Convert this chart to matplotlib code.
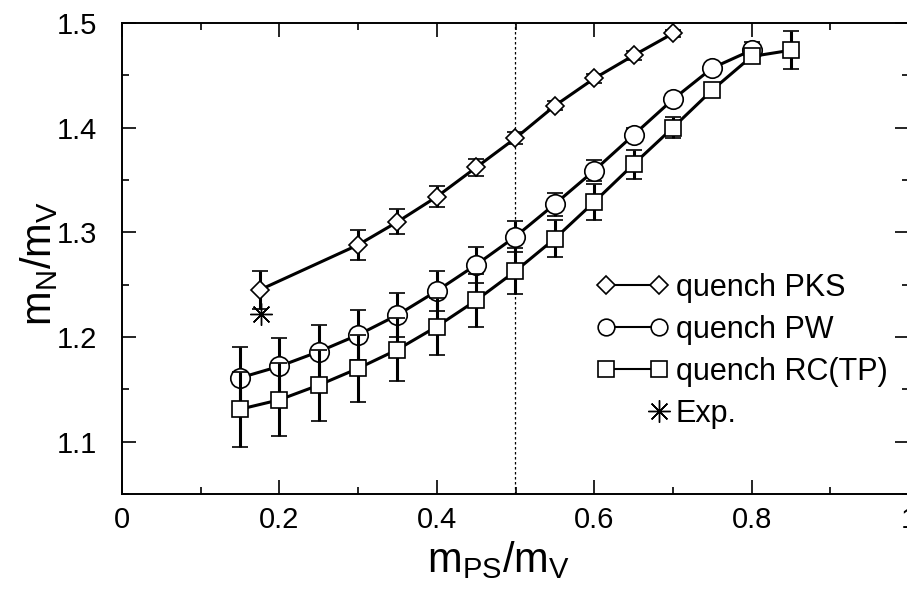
#!/usr/bin/env python3

import numpy as np
import matplotlib
matplotlib.use('Agg')
import matplotlib.pyplot as plt
from matplotlib.lines import Line2D
from matplotlib.legend_handler import HandlerLine2D
from matplotlib.ticker import MultipleLocator

plt.rcParams['font.family'] = ['Liberation Sans', 'DejaVu Sans']
plt.rcParams['mathtext.default'] = 'regular'

# --- data ---
x_pks = [0.175, 0.30, 0.35, 0.40, 0.45, 0.50, 0.55, 0.60, 0.65, 0.70]
y_pks = [1.245, 1.288, 1.310, 1.334, 1.362, 1.390, 1.421, 1.447, 1.469, 1.490]
e_pks = [0.018, 0.014, 0.012, 0.010, 0.008, 0.006, 0.004, 0.004, 0.004, 0.003]

x_pw = [0.15, 0.20, 0.25, 0.30, 0.35, 0.40, 0.45, 0.50, 0.55, 0.60, 0.65, 0.70, 0.75, 0.80]
y_pw = [1.161, 1.172, 1.186, 1.202, 1.221, 1.244, 1.269, 1.296, 1.327, 1.359, 1.393, 1.427, 1.457, 1.474]
e_pw = [0.029, 0.027, 0.025, 0.024, 0.021, 0.019, 0.017, 0.015, 0.011, 0.010, 0.007, 0.005, 0.004, 0.008]

x_rc = [0.15, 0.20, 0.25, 0.30, 0.35, 0.40, 0.45, 0.50, 0.55, 0.60, 0.65, 0.70, 0.75, 0.80, 0.85]
y_rc = [1.131, 1.140, 1.154, 1.170, 1.188, 1.210, 1.235, 1.263, 1.294, 1.329, 1.365, 1.400, 1.436, 1.468, 1.474]
e_rc = [0.036, 0.035, 0.034, 0.032, 0.030, 0.027, 0.025, 0.022, 0.018, 0.017, 0.014, 0.010, 0.004, 0.005, 0.018]

x_exp = [0.177]
y_exp = [1.222]

labels = ['quench PKS', 'quench PW', 'quench RC(TP)', 'Exp.']


class RightMarkerHandler(HandlerLine2D):
    # single marker at the right end of the handle, like the original legend
    def create_artists(self, legend, orig_handle, xdescent, ydescent,
                       width, height, fontsize, trans):
        xdata, _ = self.get_xdata(legend, xdescent, ydescent, width, height, fontsize)
        y = (height - ydescent) / 2
        line = Line2D([xdata[-1]], [y])
        self.update_prop(line, orig_handle, legend)
        line.set_transform(trans)
        return [line]


fig = plt.figure(figsize=(9.07, 5.89), dpi=100)
ax = fig.add_axes([122 / 907, 1 - 494 / 589, 787 / 907, 471 / 589])

ax.axvline(0.5, color='black', lw=0.9, ls=(0, (2, 2)), zorder=1)

style = dict(color='black', mfc='white', mec='black', mew=1.2, lw=2.2,
             elinewidth=2.2, capsize=6, capthick=2.2)

h_pks = ax.errorbar(x_pks, y_pks, yerr=e_pks, marker='D', ms=9.5, zorder=2, **style)
h_pw = ax.errorbar(x_pw, y_pw, yerr=e_pw, marker='o', ms=14, zorder=3, **style)
h_rc = ax.errorbar(x_rc, y_rc, yerr=e_rc, marker='s', ms=11.5, zorder=4, **style)
h_exp, = ax.plot(x_exp, y_exp, ls='none', marker=(8, 2, 0), ms=16, mew=1.0,
                 color='black', zorder=5)

ax.set_xlim(0, 1.0)
ax.set_ylim(1.05, 1.5)
ax.xaxis.set_major_locator(MultipleLocator(0.2))
ax.xaxis.set_minor_locator(MultipleLocator(0.1))
ax.yaxis.set_major_locator(MultipleLocator(0.1))
ax.yaxis.set_minor_locator(MultipleLocator(0.05))
ax.xaxis.set_major_formatter(plt.FuncFormatter(lambda v, p: '0' if v == 0 else f'{v:g}'))

ax.tick_params(which='both', direction='in', top=True, right=True, width=1.2)
ax.tick_params(which='major', length=10, labelsize=21)
ax.tick_params(which='minor', length=5)
ax.tick_params(axis='x', pad=9)
ax.tick_params(axis='y', pad=18)
for sp in ax.spines.values():
    sp.set_linewidth(1.4)

ax.set_xlabel(r'$m_{PS}/m_V$', fontsize=30)
ax.set_ylabel(r'$m_N/m_V$', fontsize=30)
ax.xaxis.set_label_coords(0.478, -0.095)
ax.yaxis.set_label_coords(-0.079, 0.49)

leg_pks = Line2D([], [], color='black', lw=1.5, marker='D', ms=9, mfc='white', mec='black', mew=1.2)
leg_pw = Line2D([], [], color='black', lw=1.5, marker='o', ms=12, mfc='white', mec='black', mew=1.2)
leg_rc = Line2D([], [], color='black', lw=1.5, marker='s', ms=12, mfc='white', mec='black', mew=1.2)
leg_exp = Line2D([], [], ls='none', marker=(8, 2, 0), ms=16, mew=1.0, color='black')

ax.legend([leg_pks, leg_pw, leg_rc, leg_exp], labels,
          handler_map={leg_exp: RightMarkerHandler()},
          loc='upper left', bbox_to_anchor=(597 / 907, 1 - 273 / 589),
          bbox_transform=fig.transFigure, frameon=False, numpoints=2,
          fontsize=22, handlelength=2.32, handletextpad=0.25,
          labelspacing=0.39, borderpad=0, borderaxespad=0)

fig.savefig('out.png', dpi=100)
